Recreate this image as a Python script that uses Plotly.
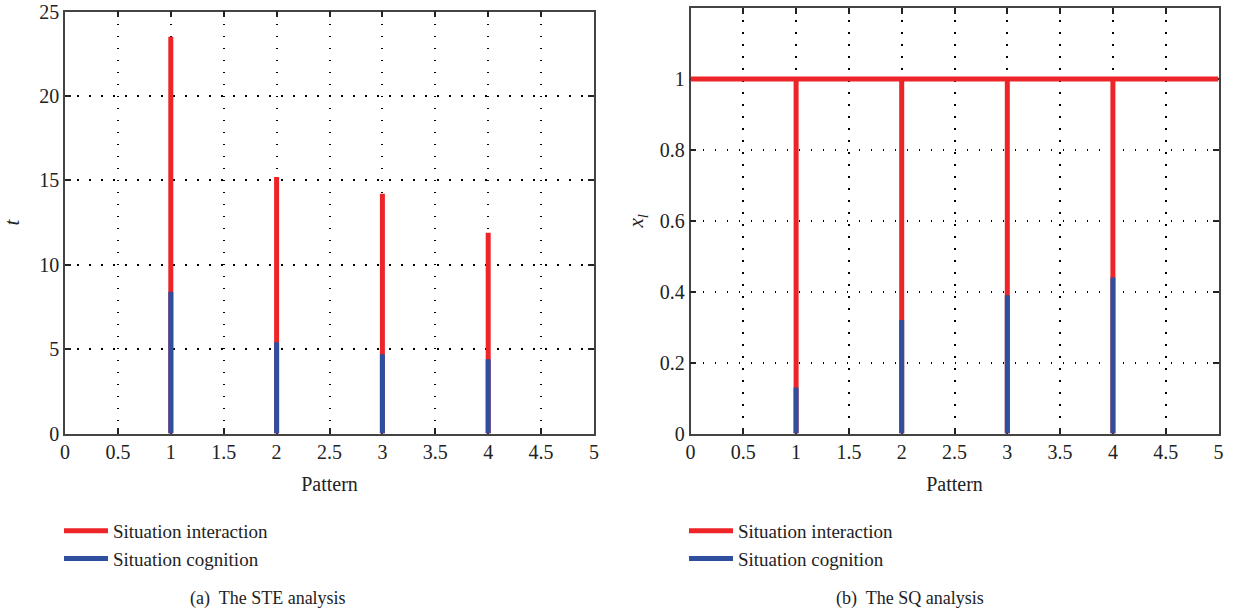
import plotly.graph_objects as go

patterns = [1, 2, 3, 4]
ste_interaction = [23.5, 15.2, 14.2, 11.9]
ste_cognition = [8.4, 5.4, 4.7, 4.4]
sq_interaction = [1.0, 1.0, 1.0, 1.0]
sq_cognition = [0.13, 0.32, 0.39, 0.44]
sq_level = 1.0
x_ticks = [0, 0.5, 1, 1.5, 2, 2.5, 3, 3.5, 4, 4.5, 5]
x_ticklabels = ["0", "0.5", "1", "1.5", "2", "2.5", "3", "3.5", "4", "4.5", "5"]
ste_ticks = [0, 5, 10, 15, 20, 25]
sq_ticks = [0, 0.2, 0.4, 0.6, 0.8, 1]
sq_ticklabels = ["0", "0.2", "0.4", "0.6", "0.8", "1"]

RED = "#EE2528"
BLUE = "#2E4E9E"
FONT = "Liberation Serif"
W, H = 1237, 616
FS = 20


def stems(xs, ys):
    sx, sy = [], []
    for x, y in zip(xs, ys):
        sx += [x, x, None]
        sy += [0, y, None]
    return sx, sy


fig = go.Figure()

# left panel
rx, ry = stems(patterns, ste_interaction)
bx, by = stems(patterns, ste_cognition)
fig.add_trace(go.Scatter(x=rx, y=ry, mode="lines", line=dict(color=RED, width=5),
                         name="Situation interaction", xaxis="x", yaxis="y", legend="legend"))
fig.add_trace(go.Scatter(x=bx, y=by, mode="lines", line=dict(color=BLUE, width=5),
                         name="Situation cognition", xaxis="x", yaxis="y", legend="legend"))

# right panel
rx2, ry2 = stems(patterns, sq_interaction)
bx2, by2 = stems(patterns, sq_cognition)
fig.add_trace(go.Scatter(x=[x_ticks[0], x_ticks[-1]], y=[sq_level, sq_level], mode="lines",
                         line=dict(color=RED, width=5), showlegend=False,
                         xaxis="x2", yaxis="y2"))
fig.add_trace(go.Scatter(x=rx2, y=ry2, mode="lines", line=dict(color=RED, width=5),
                         name="Situation interaction", xaxis="x2", yaxis="y2", legend="legend2"))
fig.add_trace(go.Scatter(x=bx2, y=by2, mode="lines", line=dict(color=BLUE, width=5),
                         name="Situation cognition", xaxis="x2", yaxis="y2", legend="legend2"))

axis_common = dict(
    showline=True, linecolor="#444", linewidth=1.5, mirror="ticks",
    ticks="inside", ticklen=6, tickwidth=1.5, tickcolor="#222",
    showgrid=True, gridcolor="#000", gridwidth=1.5, griddash="1.5px,10.5px",
    zeroline=False, automargin=False, layer="below traces",
    tickfont=dict(family=FONT, size=FS, color="#222"),
)

legend_common = dict(xanchor="left", yanchor="top", itemwidth=44,
                     font=dict(family=FONT, size=19, color="#222"),
                     bgcolor="rgba(0,0,0,0)", tracegroupgap=0)

fig.update_layout(
    width=W, height=H, margin=dict(l=0, r=0, t=0, b=0, autoexpand=False),
    plot_bgcolor="white", paper_bgcolor="white",
    font=dict(family=FONT, size=FS, color="#222"),
    xaxis=dict(domain=[65 / W, 594 / W], range=[0, 5], tickvals=x_ticks, ticktext=x_ticklabels,
               title=dict(text="Pattern", font=dict(family=FONT, size=FS), standoff=15),
               anchor="y", **axis_common),
    yaxis=dict(domain=[1 - 433.5 / H, 1 - 11.5 / H], range=[0, 25], tickvals=ste_ticks,
               title=dict(text="<i>t</i>", font=dict(family=FONT, size=FS + 1), standoff=20),
               anchor="x", **axis_common),
    xaxis2=dict(domain=[690.5 / W, 1218.5 / W], range=[0, 5], tickvals=x_ticks, ticktext=x_ticklabels,
                title=dict(text="Pattern", font=dict(family=FONT, size=FS), standoff=15),
                anchor="y2", **axis_common),
    yaxis2=dict(domain=[1 - 433.5 / H, 1 - 8 / H], range=[0, 1.2], tickvals=sq_ticks, ticktext=sq_ticklabels,
                title=dict(text="<i>x<sub>l</sub></i>", font=dict(family=FONT, size=FS + 1), standoff=10),
                anchor="x2", **axis_common),
    legend=dict(x=59 / W, y=1 - 512 / H, **legend_common),
    legend2=dict(x=684 / W, y=1 - 512 / H, **legend_common),
    annotations=[
        dict(text="(a)  The STE analysis", x=268 / W, y=1 - 598 / H, xref="paper", yref="paper",
             xanchor="center", yanchor="middle",
             showarrow=False, font=dict(family=FONT, size=18, color="#222")),
        dict(text="(b)  The SQ analysis", x=910 / W, y=1 - 598 / H, xref="paper", yref="paper",
             xanchor="center", yanchor="middle",
             showarrow=False, font=dict(family=FONT, size=18, color="#222")),
    ],
)

fig.write_html("out.html")
